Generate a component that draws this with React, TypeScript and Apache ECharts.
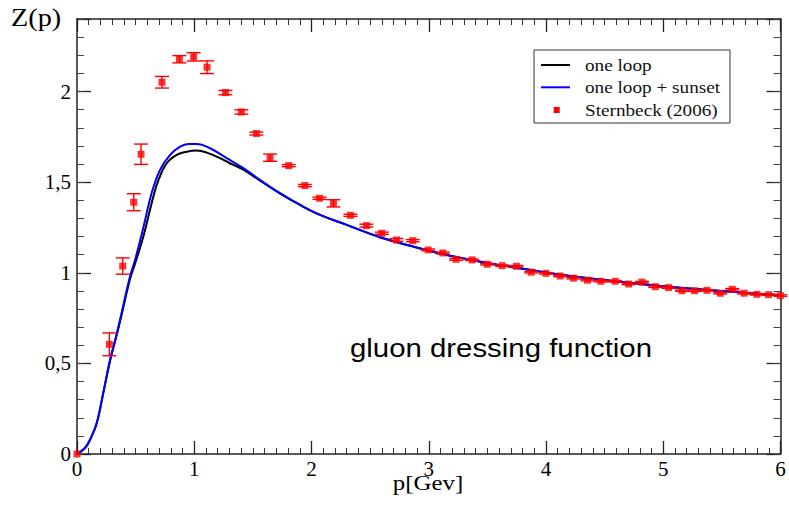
import React, { useEffect, useRef } from "react";
import * as echarts from "echarts";

// Lattice data (Sternbeck 2006): momentum, value, half error
const latticeP = [0, 0.276, 0.39, 0.484, 0.546, 0.725, 0.873, 0.995, 1.109, 1.266, 1.402, 1.53, 1.647, 1.806, 1.943, 2.068, 2.187, 2.332, 2.468, 2.6, 2.725, 2.864, 2.995, 3.12, 3.234, 3.37, 3.498, 3.626, 3.748, 3.874, 3.999, 4.121, 4.235, 4.354, 4.468, 4.59, 4.704, 4.818, 4.932, 5.045, 5.16, 5.267, 5.373, 5.486, 5.589, 5.69, 5.799, 5.898, 5.998];
const latticeZ = [0, 0.605, 1.037, 1.389, 1.654, 2.051, 2.178, 2.191, 2.134, 1.994, 1.887, 1.768, 1.635, 1.591, 1.481, 1.411, 1.383, 1.317, 1.26, 1.218, 1.181, 1.177, 1.126, 1.109, 1.074, 1.071, 1.047, 1.039, 1.036, 1.003, 0.997, 0.982, 0.970, 0.959, 0.953, 0.953, 0.938, 0.948, 0.923, 0.918, 0.901, 0.901, 0.903, 0.887, 0.909, 0.887, 0.881, 0.879, 0.874];
const latticeErr = [0, 0.063, 0.045, 0.047, 0.056, 0.032, 0.02, 0.023, 0.035, 0.012, 0.012, 0.008, 0.02, 0.006, 0.006, 0.006, 0.02, 0.006, 0.008, 0.006, 0.008, 0.006, 0.005, 0.005, 0.005, 0.004, 0.004, 0.004, 0.004, 0.004, 0.004, 0.004, 0.004, 0.004, 0.004, 0.004, 0.004, 0.004, 0.004, 0.004, 0.004, 0.004, 0.004, 0.004, 0.004, 0.004, 0.004, 0.004, 0.004];

// One loop curve
const oneLoopP = [0, 0.068, 0.11, 0.168, 0.225, 0.282, 0.338, 0.381, 0.452, 0.495, 0.566, 0.651, 0.694, 0.765, 0.85, 0.936, 1.021, 1.107, 1.22, 1.334, 1.419, 1.561, 1.732, 1.903, 2.073, 2.3, 2.585, 2.87, 3.155, 3.44, 3.72, 4.01, 4.29, 4.89, 5.57, 6.0];
const oneLoopZ = [0, 0.033, 0.077, 0.17, 0.34, 0.515, 0.655, 0.77, 0.965, 1.05, 1.2, 1.42, 1.51, 1.604, 1.65, 1.668, 1.674, 1.663, 1.632, 1.595, 1.569, 1.508, 1.437, 1.374, 1.319, 1.264, 1.196, 1.144, 1.098, 1.061, 1.03, 1.0, 0.975, 0.933, 0.896, 0.875];

// One loop + sunset curve
const sunsetP = [0, 0.068, 0.11, 0.168, 0.225, 0.282, 0.338, 0.381, 0.452, 0.495, 0.566, 0.637, 0.708, 0.794, 0.879, 0.95, 1.021, 1.135, 1.277, 1.419, 1.561, 1.732, 1.903, 2.073, 2.3, 2.585, 2.87, 3.155, 3.44, 3.72, 4.01, 4.29, 4.89, 5.57, 6.0];
const sunsetZ = [0, 0.033, 0.077, 0.17, 0.34, 0.52, 0.66, 0.78, 0.98, 1.07, 1.25, 1.44, 1.567, 1.65, 1.696, 1.711, 1.711, 1.687, 1.632, 1.577, 1.512, 1.439, 1.374, 1.319, 1.264, 1.196, 1.144, 1.098, 1.061, 1.03, 1.0, 0.975, 0.933, 0.896, 0.875];

const xTicks = [0, 1, 2, 3, 4, 5, 6];
const yMajorTicks = [0, 0.5, 1, 1.5, 2];

const SERIF = "Liberation Serif, Times New Roman, serif";
const SANS = "Liberation Sans, Arial, sans-serif";

export default function App() {
  const ref = useRef<HTMLDivElement>(null);

  useEffect(() => {
    if (!ref.current) return;
    const chart = echarts.init(ref.current, undefined, { renderer: "svg" });

    const frame = { lineStyle: { color: "#222", width: 1.5 } };
    const xBase = (pos: "bottom" | "top", labels: boolean) => ({
      type: "value",
      position: pos,
      min: xTicks[0],
      max: xTicks[xTicks.length - 1],
      interval: 1,
      axisLine: { show: true, onZero: false, ...frame },
      axisTick: { show: true, inside: true, length: 13, lineStyle: { color: "#222", width: 1.3 } },
      minorTick: { show: true, splitNumber: 10, length: 6, lineStyle: { color: "#333", width: 1 } },
      splitLine: { show: false },
      axisLabel: {
        show: labels,
        fontFamily: SERIF,
        fontSize: 21,
        color: "#000",
        margin: 4,
        formatter: (v: number) => String(v),
      },
    });
    const yMajor = (pos: "left" | "right", labels: boolean) => ({
      type: "value",
      position: pos,
      min: 0,
      max: 2.4,
      interval: 0.5,
      axisLine: { show: true, onZero: false, ...frame },
      axisTick: { show: true, inside: true, length: 14, lineStyle: { color: "#222", width: 1.3 } },
      splitLine: { show: false },
      axisLabel: {
        show: labels,
        fontFamily: SERIF,
        fontSize: 21,
        color: "#000",
        margin: 6,
        formatter: (v: number) => {
          const hit = yMajorTicks.find((t) => Math.abs(t - v) < 1e-6);
          return hit === undefined ? "" : String(hit).replace(".", ",");
        },
      },
    });
    const yMinor = (pos: "left" | "right") => ({
      type: "value",
      position: pos,
      min: 0,
      max: 2.4,
      interval: 0.1,
      axisLine: { show: false, onZero: false },
      axisTick: { show: true, inside: true, length: 7, lineStyle: { color: "#444", width: 1 } },
      splitLine: { show: false },
      axisLabel: { show: false },
    });

    const errData = latticeP.map((p, i) => [p, latticeZ[i] - latticeErr[i], latticeZ[i] + latticeErr[i]]);

    const option: any = {
      animation: false,
      backgroundColor: "#fff",
      grid: { left: 77, right: 8.5, top: 19, bottom: 52 },
      xAxis: [xBase("bottom", true), xBase("top", false)],
      yAxis: [yMajor("left", true), yMinor("left"), yMajor("right", false), yMinor("right")],
      series: [
        {
          name: "one loop",
          type: "line",
          xAxisIndex: 0,
          yAxisIndex: 0,
          data: oneLoopP.map((p, i) => [p, oneLoopZ[i]]),
          smooth: 0.4,
          showSymbol: false,
          lineStyle: { color: "#000", width: 2 },
          z: 2,
        },
        {
          name: "one loop + sunset",
          type: "line",
          xAxisIndex: 0,
          yAxisIndex: 0,
          data: sunsetP.map((p, i) => [p, sunsetZ[i]]),
          smooth: 0.4,
          showSymbol: false,
          lineStyle: { color: "#0000ff", width: 2 },
          z: 3,
        },
        {
          name: "errors",
          type: "custom",
          xAxisIndex: 0,
          yAxisIndex: 0,
          data: errData,
          encode: { x: 0, y: [1, 2] },
          clip: false,
          z: 4,
          renderItem: (params: any, api: any) => {
            const x = api.value(0);
            const lo = api.value(1);
            const hi = api.value(2);
            if (hi - lo <= 0) return { type: "group", children: [] };
            const top = api.coord([x, hi]);
            const bot = api.coord([x, lo]);
            const hw = 7;
            const st = { stroke: "#ff0000", lineWidth: 1.4 };
            return {
              type: "group",
              children: [
                { type: "line", shape: { x1: top[0], y1: top[1], x2: bot[0], y2: bot[1] }, style: st },
                { type: "line", shape: { x1: top[0] - hw, y1: top[1], x2: top[0] + hw, y2: top[1] }, style: st },
                { type: "line", shape: { x1: bot[0] - hw, y1: bot[1], x2: bot[0] + hw, y2: bot[1] }, style: st },
              ],
            };
          },
        },
        {
          name: "Sternbeck (2006)",
          type: "scatter",
          xAxisIndex: 0,
          yAxisIndex: 0,
          data: latticeP.map((p, i) => [p, latticeZ[i]]),
          symbol: "rect",
          symbolSize: 7,
          itemStyle: { color: "#ff0000" },
          clip: false,
          z: 5,
        },
      ],
      graphic: [
        { type: "text", x: 11, y: 17.5, scaleX: 1.13, style: { text: "Z(p)", font: `25px ${SERIF}`, fill: "#000", verticalAlign: "middle", align: "left" } },
        { type: "text", x: 428, y: 483, scaleX: 1.13, style: { text: "p[Gev]", font: `22px ${SERIF}`, fill: "#000", verticalAlign: "middle", align: "center" } },
        { type: "text", x: 501, y: 348, scaleX: 1.13, style: { text: "gluon dressing function", font: `26px ${SANS}`, fill: "#000", verticalAlign: "middle", align: "center" } },
        { type: "rect", shape: { x: 534, y: 50, width: 196, height: 73 }, style: { fill: "#fff", stroke: "#333", lineWidth: 1 }, z: 10 },
        { type: "line", shape: { x1: 541, y1: 65, x2: 570, y2: 65 }, style: { stroke: "#000", lineWidth: 2 }, z: 11 },
        { type: "line", shape: { x1: 541, y1: 87.3, x2: 570, y2: 87.3 }, style: { stroke: "#0000ff", lineWidth: 2 }, z: 11 },
        { type: "rect", shape: { x: 553.7, y: 107, width: 6, height: 6 }, style: { fill: "#ff0000" }, z: 11 },
        { type: "text", x: 585, y: 65, scaleX: 1.13, style: { text: "one loop", font: `17px ${SERIF}`, fill: "#111", verticalAlign: "middle", align: "left" }, z: 11 },
        { type: "text", x: 585, y: 87.3, scaleX: 1.13, style: { text: "one loop + sunset", font: `17px ${SERIF}`, fill: "#111", verticalAlign: "middle", align: "left" }, z: 11 },
        { type: "text", x: 585, y: 110, scaleX: 1.13, style: { text: "Sternbeck (2006)", font: `17px ${SERIF}`, fill: "#111", verticalAlign: "middle", align: "left" }, z: 11 },
      ],
    };

    chart.setOption(option);
    return () => chart.dispose();
  }, []);

  return (
    <div
      ref={ref}
      style={{ position: "fixed", left: 0, top: 0, width: 789, height: 506, background: "#fff" }}
    />
  );
}
